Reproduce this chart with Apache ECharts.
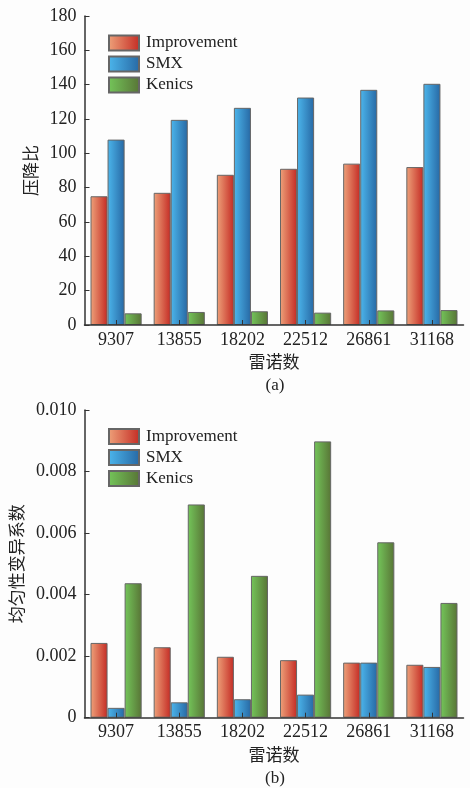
<!DOCTYPE html>
<html>
<head>
<meta charset="utf-8">
<script src="https://cdn.jsdelivr.net/npm/echarts@6/dist/echarts.min.js"></script>
<style>
  html, body { margin: 0; padding: 0; background: #fdfdfd; }
  #chart { width: 470px; height: 788px; }
</style>
</head>
<body>
<div id="chart"></div>
<script>
// Reynolds numbers shared by both panels
const categories = ['9307', '13855', '18202', '22512', '26861', '31168'];
const seriesNames = ['Improvement', 'SMX', 'Kenics'];

// (a) pressure drop ratio
const dropImprovement = [75, 77, 87.5, 91, 94, 92];
const dropSMX = [108, 119.5, 126.5, 132.5, 137, 140.5];
const dropKenics = [6.8, 7.6, 8.0, 7.2, 8.5, 8.7];
const dropTicks = { min: 0, max: 180, interval: 20 };

// (b) coefficient of variation of uniformity
const covImprovement = [0.00243, 0.00229, 0.00198, 0.00187, 0.00179, 0.00172];
const covSMX = [0.00032, 0.0005, 0.0006, 0.00075, 0.00179, 0.00165];
const covKenics = [0.00437, 0.00693, 0.00461, 0.00898, 0.0057, 0.00373];
const covTicks = { min: 0, max: 0.010, interval: 0.002 };

const latinFont = '"Liberation Serif", "DejaVu Serif", serif';
const cjkFont = '"Noto Sans CJK SC", "Liberation Serif", serif';

function grad(light, dark) {
  return new echarts.graphic.LinearGradient(0, 0, 1, 0, [
    { offset: 0, color: light },
    { offset: 1, color: dark }
  ]);
}
const fills = [
  grad('#eea27a', '#c42b24'),
  grad('#4cb6ec', '#2768a4'),
  grad('#74c65a', '#587436')
];

const axisLine = { show: true, lineStyle: { color: '#333', width: 1.5 } };

function xAxisFor(gridIndex) {
  return {
    type: 'category', gridIndex, data: categories, z: 3,
    axisLine,
    axisTick: { show: true, inside: true, length: 5, alignWithLabel: true, lineStyle: { color: '#333' } },
    axisLabel: { color: '#222', fontFamily: latinFont, fontSize: 18, margin: 6 },
    name: '雷诺数', nameLocation: 'middle', nameGap: 28,
    nameTextStyle: { color: '#222', fontFamily: cjkFont, fontSize: 17 }
  };
}
function yAxisFor(gridIndex, ticks, name, nameGap, fmt) {
  return {
    type: 'value', gridIndex, min: ticks.min, max: ticks.max, interval: ticks.interval,
    axisLine,
    axisTick: { show: true, inside: true, length: 5, lineStyle: { color: '#333' } },
    splitLine: { show: false },
    axisLabel: { color: '#222', fontFamily: latinFont, fontSize: 18, margin: 8, formatter: fmt },
    name, nameLocation: 'middle', nameGap,
    nameTextStyle: { color: '#222', fontFamily: cjkFont, fontSize: 17 }
  };
}
function barSeries(idx, gridIndex, data) {
  return {
    type: 'bar', name: seriesNames[idx], data,
    xAxisIndex: gridIndex, yAxisIndex: gridIndex,
    barGap: '0%', barCategoryGap: '19%',
    itemStyle: { color: fills[idx], borderColor: '#666', borderWidth: 1 }
  };
}
function legendAt(top) {
  return {
    data: seriesNames, orient: 'vertical', left: 103, top,
    itemWidth: 30, itemHeight: 15, itemGap: 4,
    icon: 'rect',
    textStyle: { color: '#222', fontFamily: latinFont, fontSize: 17, padding: [0, 0, 0, 2] }
  };
}

const chart = echarts.init(document.getElementById('chart'), null, { renderer: 'canvas' });
chart.setOption({
  animation: false,
  backgroundColor: '#fdfdfd',
  legend: [legendAt(29.5), legendAt(423)],
  grid: [
    { left: 84.5, right: 6.5, top: 16, height: 309 },
    { left: 84.5, right: 6.5, top: 410, height: 307.7 }
  ],
  xAxis: [xAxisFor(0), xAxisFor(1)],
  yAxis: [
    yAxisFor(0, dropTicks, '压降比', 41, v => String(v)),
    yAxisFor(1, covTicks, '均匀性变异系数', 56, v => (v === 0 ? '0' : v.toFixed(3)))
  ],
  series: [
    barSeries(0, 0, dropImprovement),
    barSeries(1, 0, dropSMX),
    barSeries(2, 0, dropKenics),
    barSeries(0, 1, covImprovement),
    barSeries(1, 1, covSMX),
    barSeries(2, 1, covKenics)
  ],
  graphic: [
    { type: 'text', x: 275, y: 386, style: { text: '(a)', fill: '#222', font: '17px ' + latinFont, align: 'center', verticalAlign: 'middle' } },
    { type: 'text', x: 275, y: 779, style: { text: '(b)', fill: '#222', font: '17px ' + latinFont, align: 'center', verticalAlign: 'middle' } }
  ]
});
</script>
</body>
</html>
